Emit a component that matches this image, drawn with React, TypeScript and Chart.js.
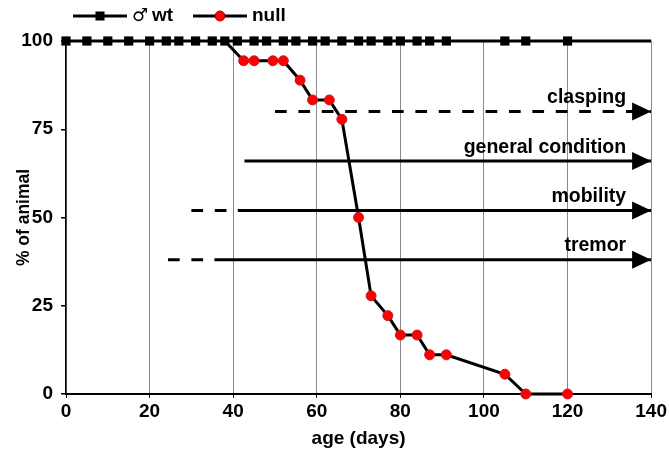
import React, { useEffect, useRef } from 'react';
import { Chart, registerables } from 'chart.js';

Chart.register(...registerables);

// wild type (♂ wt) survival
const wtAge = [0, 5, 10, 15, 20, 24, 27, 31, 35, 38, 41, 45, 48, 52, 55, 59, 62, 66, 70, 73, 77, 80, 84, 87, 91, 105, 110, 120, 140];
const wtPct = [100, 100, 100, 100, 100, 100, 100, 100, 100, 100, 100, 100, 100, 100, 100, 100, 100, 100, 100, 100, 100, 100, 100, 100, 100, 100, 100, 100, 100];
// last wt entry continues the line to the axis end without a marker
const wtMarkerHidden = [false, false, false, false, false, false, false, false, false, false, false, false, false, false, false, false, false, false, false, false, false, false, false, false, false, false, false, false, true];

// null survival (first entry lies under the wt marker)
const nullAge = [38, 42.5, 45, 49.5, 52, 56, 59, 63, 66, 70, 73, 77, 80, 84, 87, 91, 105, 110, 120];
const nullPct = [100, 94.4, 94.4, 94.4, 94.4, 88.9, 83.3, 83.3, 77.8, 50, 27.8, 22.2, 16.7, 16.7, 11.1, 11.1, 5.6, 0, 0];
const nullMarkerHidden = [true, false, false, false, false, false, false, false, false, false, false, false, false, false, false, false, false, false, false];

// symptom onset arrows
const symptomNames = ['clasping', 'general condition', 'mobility', 'tremor'];
const symptomLevel = [80, 66, 52, 38];
const symptomDashedFrom: (number | null)[] = [50, null, 30, 24.4];
const symptomSolidFrom: (number | null)[] = [null, 42.7, 41.1, 35.5];
const symptomArrowTo = 140;

// axes
const xTicks = { min: 0, max: 140, step: 20 };
const yTicks = { min: 0, max: 100, step: 25 };
const xTitle = 'age (days)';
const yTitle = '% of animal';
const legendWt = 'wt';
const legendWtSymbol = '♂';
const legendNull = 'null';

const FONT = '"Liberation Sans", Arial, Helvetica, sans-serif';

export default function App() {
  const ref = useRef<HTMLCanvasElement | null>(null);

  useEffect(() => {
    document.body.style.margin = '0';
    const canvas = ref.current;
    if (!canvas) return;

    const symptomDatasets: any[] = [];
    symptomNames.forEach((name, i) => {
      const lvl = symptomLevel[i];
      const dFrom = symptomDashedFrom[i];
      const sFrom = symptomSolidFrom[i];
      if (dFrom !== null) {
        symptomDatasets.push({
          label: name + ' (dashed)',
          data: [
            { x: dFrom, y: lvl },
            { x: sFrom !== null ? sFrom : symptomArrowTo, y: lvl },
          ],
          borderColor: '#000',
          borderWidth: 3,
          borderDash: [11.7, 11.7],
          pointRadius: 0,
          order: 10,
          borderCapStyle: 'butt',
        });
      }
      if (sFrom !== null) {
        symptomDatasets.push({
          label: name,
          data: [
            { x: sFrom, y: lvl },
            { x: symptomArrowTo, y: lvl },
          ],
          borderColor: '#000',
          borderWidth: 3,
          pointRadius: 0,
          order: 10,
          borderCapStyle: 'butt',
        });
      }
    });

    const overlay = {
      id: 'overlay',
      afterDatasetsDraw(chart: any) {
        const ctx = chart.ctx;
        const xs = chart.scales.x;
        const ys = chart.scales.y;
        ctx.save();
        symptomNames.forEach((name, i) => {
          const x = xs.getPixelForValue(symptomArrowTo);
          const y = ys.getPixelForValue(symptomLevel[i]);
          ctx.fillStyle = '#000';
          ctx.beginPath();
          ctx.moveTo(x, y);
          ctx.lineTo(x - 19, y - 9);
          ctx.lineTo(x - 19, y + 9);
          ctx.closePath();
          ctx.fill();
          ctx.font = `bold 19.5px ${FONT}`;
          ctx.textAlign = 'right';
          ctx.textBaseline = 'alphabetic';
          ctx.fillText(name, x - 25, y - 8.5);
        });
        ctx.restore();
      },
      afterDraw(chart: any) {
        const ctx = chart.ctx;
        ctx.save();
        const ly = 16;
        // wt entry
        ctx.strokeStyle = '#000';
        ctx.lineWidth = 3;
        ctx.beginPath();
        ctx.moveTo(73, ly);
        ctx.lineTo(127, ly);
        ctx.stroke();
        ctx.fillStyle = '#000';
        ctx.fillRect(100 - 4.5, ly - 4.5, 9, 9);
        ctx.textBaseline = 'middle';
        ctx.textAlign = 'left';
        ctx.font = `18px "DejaVu Sans", ${FONT}`;
        ctx.fillText(legendWtSymbol, 132, ly);
        ctx.font = `bold 19px ${FONT}`;
        ctx.fillText(legendWt, 152, ly);
        // null entry
        ctx.beginPath();
        ctx.moveTo(193, ly);
        ctx.lineTo(247, ly);
        ctx.stroke();
        ctx.beginPath();
        ctx.arc(220, ly, 5, 0, Math.PI * 2);
        ctx.fillStyle = '#ff0000';
        ctx.fill();
        ctx.lineWidth = 1;
        ctx.strokeStyle = '#b00000';
        ctx.stroke();
        ctx.fillStyle = '#000';
        ctx.fillText(legendNull, 252, ly);
        ctx.restore();
      },
    };

    const chart = new Chart(canvas, {
      type: 'line',
      data: {
        datasets: [
          {
            label: 'wt',
            data: wtAge.map((a, i) => ({ x: a, y: wtPct[i] })),
            borderColor: '#000',
            borderWidth: 3,
            backgroundColor: '#000',
            pointStyle: 'rect',
            pointRadius: wtMarkerHidden.map((h) => (h ? 0 : 6.5)),
            pointBackgroundColor: '#000',
            pointBorderColor: '#000',
            pointBorderWidth: 0,
            tension: 0,
            order: 1,
            clip: false,
          },
          {
            label: 'null',
            data: nullAge.map((a, i) => ({ x: a, y: nullPct[i] })),
            borderColor: '#000',
            borderWidth: 3,
            pointStyle: 'circle',
            pointRadius: nullMarkerHidden.map((h) => (h ? 0 : 5)),
            pointBackgroundColor: '#ff0000',
            pointBorderColor: '#c02020',
            pointBorderWidth: 1,
            tension: 0,
            order: 2,
            clip: false,
          },
          ...symptomDatasets,
        ],
      },
      options: {
        responsive: false,
        animation: false,
        events: [],
        layout: { padding: { top: 41, right: 16, left: 0, bottom: 0 } },
        plugins: {
          legend: { display: false },
          tooltip: { enabled: false },
        },
        scales: {
          x: {
            type: 'linear',
            min: xTicks.min,
            max: xTicks.max,
            afterFit: (s: any) => {
              s.height = 56;
            },
            ticks: {
              stepSize: xTicks.step,
              color: '#000',
              padding: 2,
              font: { family: FONT, size: 19, weight: 'bold' },
            },
            grid: {
              color: '#8a8a8a',
              lineWidth: 1,
              tickColor: '#000',
              tickLength: 4,
            },
            border: { color: '#000', width: 2 },
            title: {
              display: true,
              text: xTitle,
              color: '#000',
              font: { family: FONT, size: 19, weight: 'bold' },
              padding: { top: 3, bottom: 0 },
            },
          },
          y: {
            type: 'linear',
            min: yTicks.min,
            max: yTicks.max,
            afterFit: (s: any) => {
              s.width = 66;
            },
            ticks: {
              stepSize: yTicks.step,
              color: '#000',
              padding: 8,
              font: { family: FONT, size: 19, weight: 'bold' },
            },
            grid: {
              drawOnChartArea: false,
              tickColor: '#000',
              tickLength: 5,
              lineWidth: 1.5,
            },
            border: { color: '#000', width: 1.5 },
            title: {
              display: true,
              text: yTitle,
              color: '#000',
              font: { family: FONT, size: 17.5, weight: 'bold' },
              padding: { top: 14, bottom: 0 },
            },
          },
        },
      },
      plugins: [overlay],
    } as any);

    return () => chart.destroy();
  }, []);

  return (
    <div style={{ width: 669, height: 450 }}>
      <canvas ref={ref} width={669} height={450} />
    </div>
  );
}
